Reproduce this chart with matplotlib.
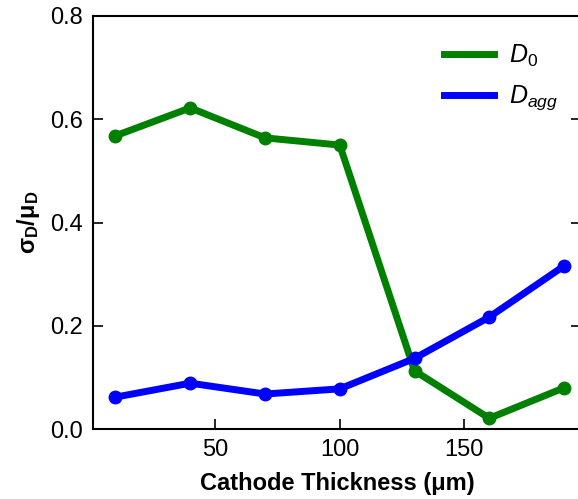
import matplotlib
matplotlib.use('Agg')
import matplotlib.pyplot as plt

plt.rcParams['font.family'] = ['Liberation Sans', 'DejaVu Sans']
plt.rcParams['mathtext.fontset'] = 'custom'
plt.rcParams['mathtext.rm'] = 'Liberation Sans'
plt.rcParams['mathtext.it'] = 'Liberation Sans:italic'
plt.rcParams['mathtext.bf'] = 'Liberation Sans:bold'

# cathode thickness in um
thickness = [10, 40, 70, 100, 130, 160, 190]
d0_ratio = [0.568, 0.622, 0.564, 0.550, 0.113, 0.021, 0.080]
dagg_ratio = [0.062, 0.089, 0.068, 0.078, 0.137, 0.217, 0.316]

fig = plt.figure(figsize=(5.78, 4.99), dpi=100)
ax = fig.add_axes([0.161, 0.140, 0.845, 0.828])

ax.plot(thickness, d0_ratio, color='green', lw=5, marker='o', ms=9, label=r'$D_0$')
ax.plot(thickness, dagg_ratio, color='blue', lw=5, marker='o', ms=9, label=r'$D_{agg}$')

ax.set_xlim(1, 197)
ax.set_ylim(0, 0.8)
ax.set_xticks([50, 100, 150])
ax.set_yticks([0.0, 0.2, 0.4, 0.6, 0.8])
ax.tick_params(direction='in', labelsize=17, length=7, width=1.2, top=False, right=True, pad=7)
for s in ax.spines.values():
    s.set_linewidth(1.5)

ax.set_xlabel('Cathode Thickness (μm)', fontsize=17, fontweight='bold', labelpad=8)
ax.set_ylabel(r'$\mathbf{\sigma_D/\mu_D}$', fontsize=17, labelpad=6)

leg = ax.legend(loc='upper right', frameon=False, fontsize=18, handlelength=2.0,
                handletextpad=0.6, labelspacing=0.6, bbox_to_anchor=(0.998, 0.99))
for h in leg.get_lines():
    h.set_marker('')

fig.savefig('out.png', dpi=100)
plt.close()
